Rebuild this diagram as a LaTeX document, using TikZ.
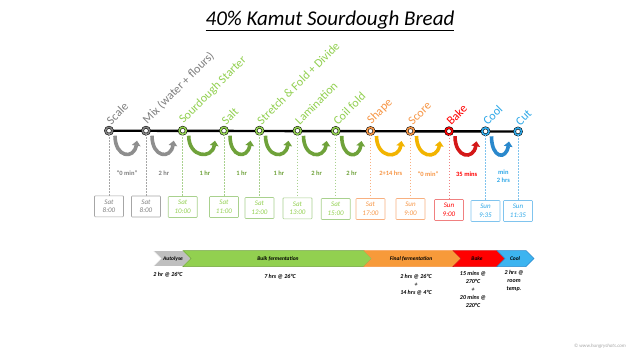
\documentclass[tikz,border=0pt]{standalone}
\usepackage{fontspec}
\setmainfont{Carlito}
\usetikzlibrary{arrows.meta}
\definecolor{cgray}{HTML}{7F7F7F}
\definecolor{agray}{HTML}{8E8E8E}
\definecolor{lgray}{HTML}{A6A6A6}
\definecolor{cgreen}{HTML}{92D050}
\definecolor{dgreen}{HTML}{6FA23A}
\definecolor{bgreen}{HTML}{A9D18E}
\definecolor{corange}{HTML}{F79646}
\definecolor{borange}{HTML}{F8B080}
\definecolor{cgold}{HTML}{F2B400}
\definecolor{cred}{HTML}{FF0000}
\definecolor{dred}{HTML}{D41818}
\definecolor{bred}{HTML}{F08080}
\definecolor{cblue}{HTML}{2EA8E8}
\definecolor{dblue}{HTML}{2A88CC}
\definecolor{bblue}{HTML}{80C4EE}
\definecolor{chgray}{HTML}{BFBFBF}
\definecolor{chorange}{HTML}{F79A3A}
\definecolor{chblue}{HTML}{3CB4F0}
\begin{document}
\begin{tikzpicture}[x=1pt,y=-1pt,
  ring/.style={circle, draw=black, double=#1, double distance=1.6pt, line width=0.5pt, fill=white, minimum size=7pt, inner sep=0pt},
  steplabel/.style={rotate=45, anchor=south west, inner sep=0pt, text=#1, font=\fontsize{12}{13}\selectfont},
  uarrow/.style={draw=#1, line width=3.6pt, -{Triangle[length=5pt,width=8.5pt]}},
  dline/.style={draw=#1, line width=0.5pt, dash pattern=on 1.5pt off 1.5pt},
  tbox/.style={draw=#1, line width=0.6pt, rounded corners=0.8pt, text=#1, minimum width=29pt, minimum height=21pt, inner sep=0pt, align=center, font=\fontsize{7}{8.5}\selectfont\itshape},
  dur/.style={text=#1, font=\fontsize{6.5}{8}\selectfont\bfseries, align=center, inner sep=0pt},
  chevtext/.style={font=\fontsize{5.5}{6}\selectfont\bfseries\itshape, inner sep=0pt},
  note/.style={font=\fontsize{6}{8}\selectfont\bfseries\itshape, align=center, inner sep=0pt}
]
\useasboundingbox[fill=white] (0,0) rectangle (640,360);

% title
\node[font=\fontsize{21}{24}\selectfont\itshape] (title) at (330,21) {\underline{40\% Kamut Sourdough Bread}};

% main line
\coordinate (p1) at (109,130.7);
\coordinate (p12) at (518,131.5);
\draw[line width=2.4pt] (p1) -- (p12);

% circles and labels
\foreach \i/\x/\y/\col/\lab in {
  1/109/130.7/cgray/{Scale},
  2/146/130.7/cgray/{Mix (water + flours)},
  3/182.7/130.7/cgreen/{Sourdough Starter},
  4/224/130.7/cgreen/{Salt},
  5/259.5/130.7/cgreen/{Stretch \& Fold + Divide},
  6/297.5/130.8/cgreen/{Lamination},
  7/335.7/130.9/cgreen/{Coil fold},
  8/370.5/131/corange/{Shape},
  9/410.5/131/corange/{Score},
  10/449/131.2/cred/{Bake},
  11/485.5/131.3/cblue/{Cool},
  12/518/131.5/cblue/{Cut}}{
  \node[ring=\col] (c\i) at (\x,\y) {};
  \node[steplabel=\col] (l\i) at (\x+2.5,\y-5) {\lab};
}

% U-turn arrows
\foreach \i/\j/\col in {1/2/agray,2/3/agray,3/4/dgreen,4/5/dgreen,5/6/dgreen,6/7/dgreen,7/8/dgreen,8/9/cgold,9/10/cgold,10/11/dred,11/12/dblue}{
  \draw[uarrow=\col] ([shift={(6,5)}]c\i.center) .. controls ([shift={(6,27)}]c\i.center) and ([shift={(-12,29)}]c\j.center) .. ([shift={(-9,10)}]c\j.center);
}

% durations
\node[dur=cgray] (d1) at (127,173) {“0 min”};
\node[dur=cgray] (d2) at (164,173) {2 hr};
\node[dur=dgreen] (d3) at (205,173) {1 hr};
\node[dur=dgreen] (d4) at (241.7,173) {1 hr};
\node[dur=dgreen] (d5) at (279,173) {1 hr};
\node[dur=dgreen] (d6) at (316.7,173) {2 hr};
\node[dur=dgreen] (d7) at (351.7,173) {2 hr};
\node[dur=corange] (d8) at (390.7,173.5) {2+14 hrs};
\node[dur=corange] (d9) at (428,174) {“0 min”};
\node[dur=cred] (d10) at (466.7,174.5) {35 mins};
\node[dur=cblue] (d11) at (503.3,176.7) {min\\2 hrs};

% time boxes
\foreach \i/\y/\col/\tc/\day/\t in {
  1/206.3/lgray/cgray/Sat/8:00,
  2/206.5/lgray/cgray/Sat/8:00,
  3/207/bgreen/cgreen/Sat/10:00,
  4/207/bgreen/cgreen/Sat/11:00,
  5/208/bgreen/cgreen/Sat/12:00,
  6/208.3/bgreen/cgreen/Sat/13:00,
  7/209/bgreen/cgreen/Sat/15:00,
  8/209/borange/corange/Sat/17:00,
  9/209/borange/corange/Sun/9:00,
  10/210/bred/cred/Sun/9:00,
  11/211/bblue/cblue/Sun/9:35,
  12/211/bblue/cblue/Sun/11:35}{
  \node[tbox=\col, text=\tc] (b\i) at (c\i |- 0,\y) {\day\\\t};
  \draw[dline=\col] (c\i) -- (b\i.north);
}

% bottom chevrons
\path[fill=chgray, draw=white, line width=0.6pt] (153,250.5) -- (183,250.5) -- (191,258.5) -- (183,266.5) -- (153,266.5) -- (161,258.5) -- cycle;
\path[fill=cgreen, draw=dgreen, line width=0.5pt] (183,250.5) -- (364,250.5) -- (372,258.5) -- (364,266.5) -- (183,266.5) -- (191,258.5) -- cycle;
\path[fill=chorange, draw=corange, line width=0.5pt] (364,250.5) -- (453,250.5) -- (461,258.5) -- (453,266.5) -- (364,266.5) -- (372,258.5) -- cycle;
\path[fill=cred, draw=dred, line width=0.5pt] (453,250.5) -- (497,250.5) -- (505,258.5) -- (497,266.5) -- (453,266.5) -- (461,258.5) -- cycle;
\path[fill=chblue, draw=dblue, line width=0.5pt] (497,250.5) -- (526,250.5) -- (534,258.5) -- (526,266.5) -- (497,266.5) -- (505,258.5) -- cycle;
\node[chevtext] (k1) at (173,258.5) {Autolyse};
\node[chevtext] (k2) at (278,258.5) {Bulk fermentation};
\node[chevtext] (k3) at (411,258.5) {Final fermentation};
\node[chevtext] (k4) at (477,258.5) {Bake};
\node[chevtext] (k5) at (515,258.5) {Cool};

% notes
\node[note, anchor=north] (n1) at (168,272.5) {2 hr @ 26°C};
\node[note, anchor=north] (n2) at (280,274) {7 hrs @ 26°C};
\node[note, anchor=north] (n3) at (416,274) {2 hrs @ 26°C\\+\\14 hrs @ 4°C};
\node[note, anchor=north] (n4) at (473,271.5) {15 mins @\\270°C\\+\\20 mins @\\220°C};
\node[note, anchor=north] (n5) at (514,270.5) {2 hrs @\\room\\temp.};

% copyright
\node[text=lgray, font=\fontsize{5}{6}\selectfont\itshape] (cr) at (600,346) {© www.hungryshots.com};
\end{tikzpicture}
\end{document}
